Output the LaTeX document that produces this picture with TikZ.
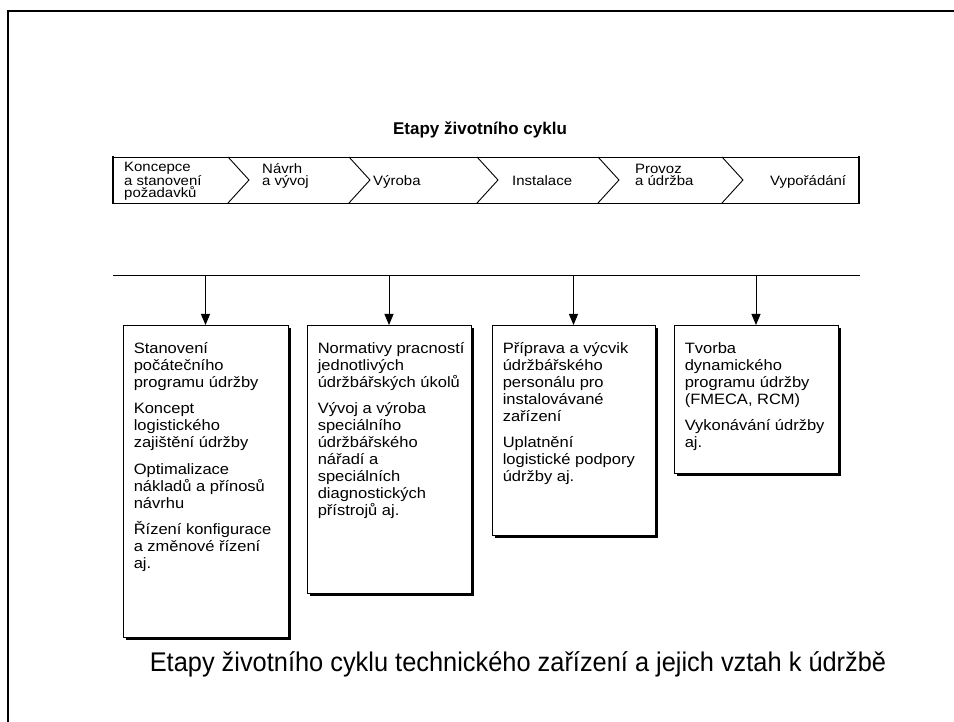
\documentclass[tikz,border=0pt]{standalone}
\usepackage{fontspec}
\setmainfont{Liberation Sans}
\newfontfamily\widefont[FakeStretch=1.1]{Liberation Sans}
\newfontfamily\narrowfont[FakeStretch=0.94]{Liberation Sans}
\usetikzlibrary{arrows.meta,shadows,calc}
\tikzset{
  x=1pt, y=-1pt,
  frameline/.style={line width=2.5pt, line cap=rect},
  bandline/.style={line width=0.9pt},
  bandedge/.style={line width=2.6pt},
  stagetext/.style={anchor=base west, inner sep=0pt, align=left,
    font=\widefont\fontsize{13.6}{12.8}\selectfont},
  box/.style={draw, line width=0.9pt, fill=white, anchor=north,
    drop shadow={shadow xshift=3pt, shadow yshift=-3pt, fill=black, opacity=1}},
  boxtext/.style={anchor=north west, inner sep=0pt, align=left,
    font=\widefont\fontsize{15}{17}\selectfont},
  arr/.style={line width=0.9pt, -{Triangle[width=9pt,length=11pt]}},
}
\begin{document}
\begin{tikzpicture}
\useasboundingbox (0,0) rectangle (954,722);
\fill[white] (0,0) rectangle (954,722);
% outer frame
\draw[frameline] (8,722) -- (8,11) -- (954,11);
% title
\node[font=\bfseries\fontsize{17}{18}\selectfont, inner sep=0pt] (title) at (480,130) {Etapy životního cyklu};
% band
\draw[bandline] (113,157) -- (859,157);
\draw[bandline] (113,203) -- (859,203);
\draw[bandedge] (113,156) -- (113,204);
\draw[bandedge] (859,156) -- (859,204);
\foreach \x in {228,349,477,598,722}{
  \draw[bandline] (\x,157) -- (\x+21,180) -- (\x,203);
}
\node[stagetext] (s1) at (124,198) {Koncepce\\a stanovení\\požadavků};
\node[stagetext] (s2) at (262,186) {Návrh\\a vývoj};
\node[stagetext] (s3) at (373,186) {Výroba};
\node[stagetext] (s4) at (512,186) {Instalace};
\node[stagetext] (s5) at (635,186) {Provoz\\a údržba};
\node[stagetext] (s6) at (770,186) {Vypořádání};
% distribution line
\coordinate (L) at (113,275);
\coordinate (R) at (860,275);
\draw[bandline] (L) -- (R);
% boxes
\node[box, minimum width=165pt, minimum height=312pt] (b1) at (205.5,325) {};
\node[box, minimum width=164pt, minimum height=268pt] (b2) at (389,325) {};
\node[box, minimum width=163pt, minimum height=210pt] (b3) at (573.5,325) {};
\node[box, minimum width=164pt, minimum height=148pt] (b4) at (756,325) {};
\foreach \b in {b1,b2,b3,b4}{
  \draw[arr] (\b.north |- L) -- (\b.north);
}
\node[boxtext] (t1) at ($(b1.north west)+(11,17)$) {Stanovení\\počátečního\\programu údržby\\[9.5pt]Koncept\\logistického\\zajištění údržby\\[9.5pt]Optimalizace\\nákladů a přínosů\\návrhu\\[9.5pt]Řízení konfigurace\\a změnové řízení\\aj.};
\node[boxtext] (t2) at ($(b2.north west)+(11,17)$) {Normativy pracností\\jednotlivých\\údržbářských úkolů\\[9.5pt]Vývoj a výroba\\speciálního\\údržbářského\\nářadí a\\speciálních\\diagnostických\\přístrojů aj.};
\node[boxtext] (t3) at ($(b3.north west)+(11,17)$) {Příprava a výcvik\\údržbářského\\personálu pro\\instalovávané\\zařízení\\[9.5pt]Uplatnění\\logistické podpory\\údržby aj.};
\node[boxtext] (t4) at ($(b4.north west)+(11,17)$) {Tvorba\\dynamického\\programu údržby\\(FMECA, RCM)\\[9.5pt]Vykonávání údržby\\aj.};
% caption
\node[font=\narrowfont\fontsize{27}{30}\selectfont, inner sep=0pt] (cap) at (518,664) {Etapy životního cyklu technického zařízení a jejich vztah k údržbě};
\end{tikzpicture}
\end{document}
